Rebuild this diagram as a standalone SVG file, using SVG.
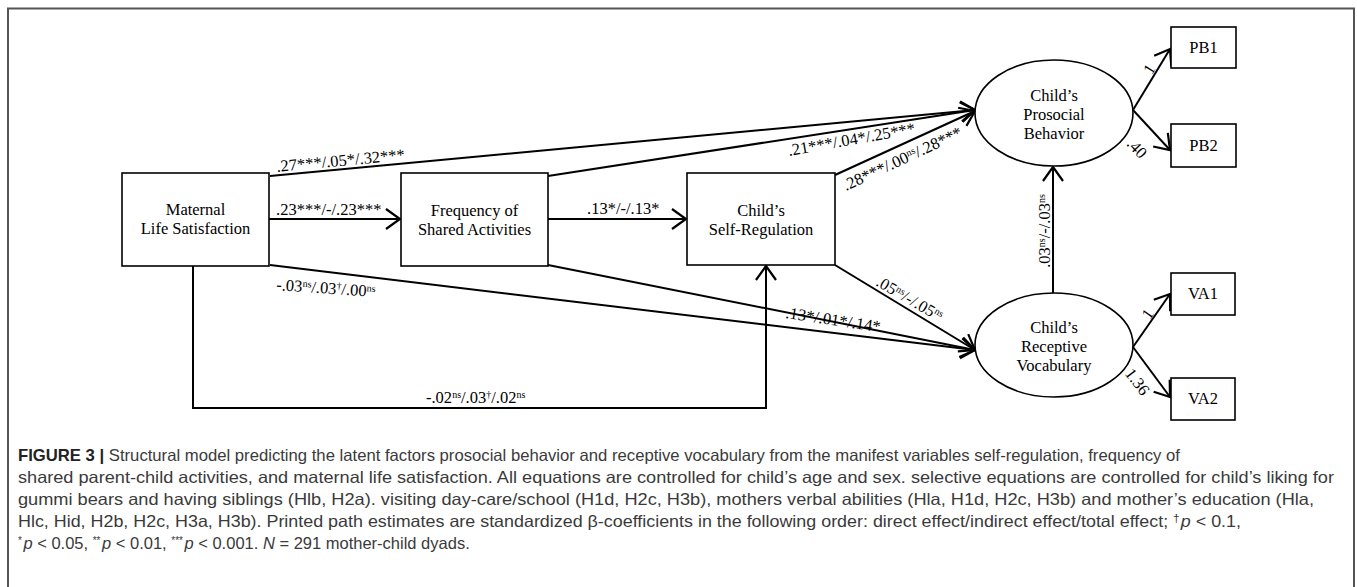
<svg xmlns="http://www.w3.org/2000/svg" width="1357" height="587" viewBox="0 0 1357 587">
<style>
.box{fill:#fff;stroke:#000;stroke-width:1.6}
.nt{font-family:"Liberation Serif","Times New Roman",serif;font-size:16.5px;fill:#000;text-anchor:middle}
.el{font-family:"Liberation Serif","Times New Roman",serif;font-size:16.5px;fill:#000}
.ln{fill:none;stroke:#000;stroke-width:2}
.cap{font-family:"Liberation Sans",Arial,sans-serif;font-size:16.5px;fill:#3a3a3a}
</style>
<defs>
<marker id="ah" markerUnits="userSpaceOnUse" markerWidth="20" markerHeight="24" viewBox="0 0 20 24" refX="16" refY="12" orient="auto">
<path d="M2,2 L16,12 L2,22" fill="none" stroke="#000" stroke-width="2.2"/>
</marker>
</defs>
<rect width="1357" height="587" fill="#fff"/>
<path d="M8,592 V8.5 H1354 V592" fill="none" stroke="#555" stroke-width="2"/>

<g id="connectors">
<line class="ln" x1="269" y1="219" x2="400" y2="219" marker-end="url(#ah)"/>
<line class="ln" x1="548" y1="219" x2="686" y2="219" marker-end="url(#ah)"/>
<line class="ln" x1="270" y1="176" x2="975" y2="110" marker-end="url(#ah)"/>
<line class="ln" x1="548" y1="176" x2="975" y2="110" marker-end="url(#ah)"/>
<line class="ln" x1="835" y1="175" x2="975" y2="111" marker-end="url(#ah)"/>
<line class="ln" x1="270" y1="265" x2="975" y2="350" marker-end="url(#ah)"/>
<line class="ln" x1="548" y1="265" x2="975" y2="350" marker-end="url(#ah)"/>
<line class="ln" x1="835" y1="265" x2="975" y2="350" marker-end="url(#ah)"/>
<path class="ln" d="M193,266 V408 H766 V266" marker-end="url(#ah)"/>
<line class="ln" x1="1053" y1="293" x2="1053" y2="167" marker-end="url(#ah)"/>
<line class="ln" x1="1133" y1="110" x2="1170" y2="49" marker-end="url(#ah)"/>
<line class="ln" x1="1133" y1="110" x2="1170" y2="150" marker-end="url(#ah)"/>
<line class="ln" x1="1133" y1="347" x2="1170" y2="294" marker-end="url(#ah)"/>
<line class="ln" x1="1133" y1="347" x2="1170" y2="397" marker-end="url(#ah)"/>

<text class="el" x="277" y="172" transform="rotate(-5.4 277 172)">.27***/.05*/.32***</text>
<text class="el" x="276" y="215">.23***/-/.23***</text>
<text class="el" x="587" y="214">.13*/-/.13*</text>
<text class="el" x="789" y="156" transform="rotate(-10 789 156)">.21***/.04*/.25***</text>
<text class="el" x="846" y="191" transform="rotate(-25 846 191)">.28***/.00<tspan font-size="10" dy="-5">ns</tspan><tspan dy="5">/.28***</tspan></text>
<text class="el" x="276" y="290" transform="rotate(4 276 290)">-.03<tspan font-size="10" dy="-5">ns</tspan><tspan dy="5">/.03</tspan><tspan font-size="10" dy="-5">†</tspan><tspan dy="5">/.00</tspan><tspan font-size="10" dy="-5">ns</tspan></text>
<text class="el" x="785" y="318" transform="rotate(8.5 785 318)">.13*/.01*/.14*</text>
<text class="el" x="875" y="285" transform="rotate(30 875 285)">.05<tspan font-size="10" dy="-5">ns</tspan><tspan dy="5">/-/.05</tspan><tspan font-size="10" dy="-5">ns</tspan></text>
<text class="el" x="426" y="403">-.02<tspan font-size="10" dy="-5">ns</tspan><tspan dy="5">/.03</tspan><tspan font-size="10" dy="-5">†</tspan><tspan dy="5">/.02</tspan><tspan font-size="10" dy="-5">ns</tspan></text>
<text class="el" text-anchor="middle" transform="translate(1050 231) rotate(-90)">.03<tspan font-size="10" dy="-5">ns</tspan><tspan dy="5">/-/.03</tspan><tspan font-size="10" dy="-5">ns</tspan></text>
<text class="el" text-anchor="middle" transform="translate(1154 72) rotate(-58)">1</text>
<text class="el" text-anchor="middle" transform="translate(1133 152) rotate(47)">.40</text>
<text class="el" text-anchor="middle" transform="translate(1152 317) rotate(-55)">1</text>
<text class="el" text-anchor="middle" transform="translate(1133 385) rotate(53)">1.36</text>
</g>

<g id="maternal">
<rect class="box" x="122" y="173" width="147" height="93"/>
<text class="nt" x="195.5" y="215">Maternal</text>
<text class="nt" x="195.5" y="234">Life Satisfaction</text>
</g>
<g id="frequency">
<rect class="box" x="401" y="173" width="147" height="93"/>
<text class="nt" x="474.5" y="216">Frequency of</text>
<text class="nt" x="474.5" y="235">Shared Activities</text>
</g>
<g id="selfreg">
<rect class="box" x="687" y="173" width="148" height="92"/>
<text class="nt" x="761" y="216">Child’s</text>
<text class="nt" x="761" y="235">Self-Regulation</text>
</g>
<g id="prosocial">
<ellipse class="box" cx="1054" cy="113" rx="79" ry="53"/>
<text class="nt" x="1054" y="101">Child’s</text>
<text class="nt" x="1054" y="120">Prosocial</text>
<text class="nt" x="1054" y="139">Behavior</text>
</g>
<g id="receptive">
<ellipse class="box" cx="1054" cy="345" rx="79" ry="52"/>
<text class="nt" x="1054" y="333">Child’s</text>
<text class="nt" x="1054" y="352">Receptive</text>
<text class="nt" x="1054" y="371">Vocabulary</text>
</g>
<g id="pb1">
<rect class="box" x="1171" y="27" width="65" height="41"/>
<text class="nt" x="1203.5" y="53">PB1</text>
</g>
<g id="pb2">
<rect class="box" x="1171" y="124" width="65" height="43"/>
<text class="nt" x="1203.5" y="151">PB2</text>
</g>
<g id="va1">
<rect class="box" x="1171" y="273" width="64" height="42"/>
<text class="nt" x="1203" y="299">VA1</text>
</g>
<g id="va2">
<rect class="box" x="1171" y="378" width="64" height="42"/>
<text class="nt" x="1203" y="404">VA2</text>
</g>

<g id="caption">
<text class="cap" x="18" y="461" textLength="1162" lengthAdjust="spacingAndGlyphs"><tspan font-weight="bold" fill="#222">FIGURE 3 |</tspan> Structural model predicting the latent factors prosocial behavior and receptive vocabulary from the manifest variables self-regulation, frequency of</text>
<text class="cap" x="18" y="483" textLength="1316" lengthAdjust="spacingAndGlyphs">shared parent-child activities, and maternal life satisfaction. All equations are controlled for child’s age and sex. selective equations are controlled for child’s liking for</text>
<text class="cap" x="18" y="505" textLength="1296" lengthAdjust="spacingAndGlyphs">gummi bears and having siblings (Hlb, H2a). visiting day-care/school (H1d, H2c, H3b), mothers verbal abilities (Hla, H1d, H2c, H3b) and mother’s education (Hla,</text>
<text class="cap" x="18" y="527" textLength="1223" lengthAdjust="spacingAndGlyphs">Hlc, Hid, H2b, H2c, H3a, H3b). Printed path estimates are standardized β-coefficients in the following order: direct effect/indirect effect/total effect; <tspan font-size="11" dy="-5">†</tspan><tspan dy="5" dx="1" font-style="italic">p</tspan> &lt; 0.1,</text>
<text class="cap" x="18" y="549" font-size="14"><tspan font-size="10" dy="-5">*</tspan><tspan dy="5" dx="1.5" font-style="italic">p</tspan> &lt; 0.05, <tspan font-size="10" dy="-5">**</tspan><tspan dy="5" dx="1.5" font-style="italic">p</tspan> &lt; 0.01, <tspan font-size="10" dy="-5">***</tspan><tspan dy="5" dx="1.5" font-style="italic">p</tspan> &lt; 0.001. <tspan font-style="italic">N</tspan> = 291 mother-child dyads.</text>
</g>
</svg>
